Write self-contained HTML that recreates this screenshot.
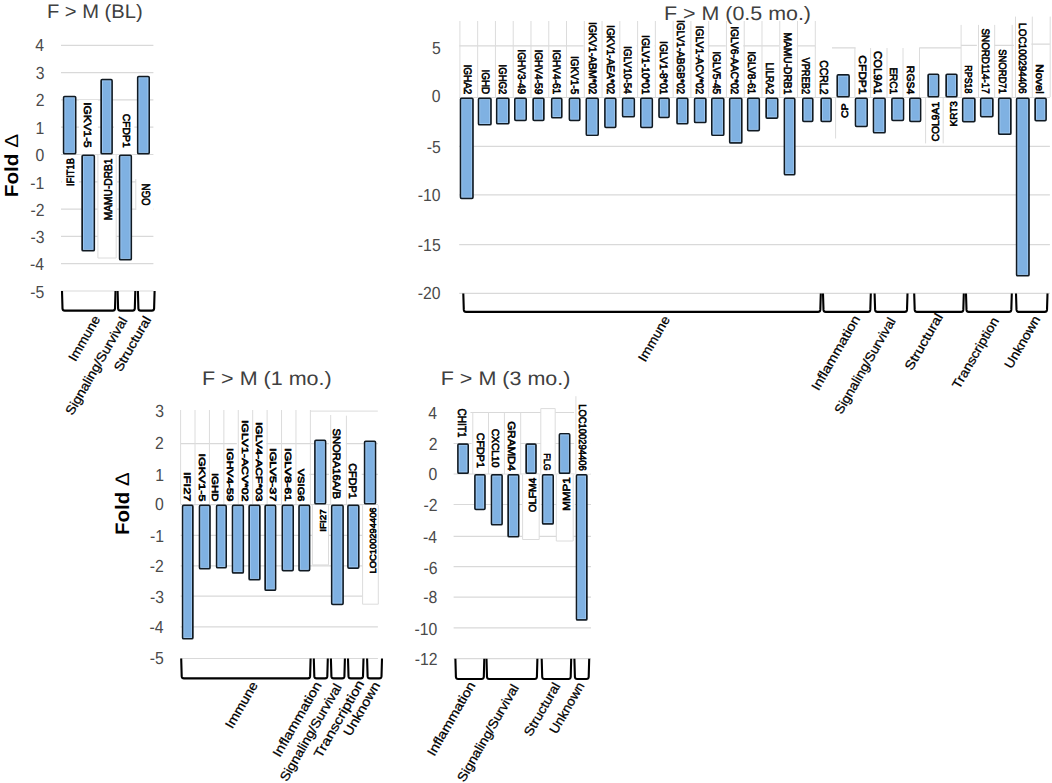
<!DOCTYPE html><html><head><meta charset="utf-8"><style>html,body{margin:0;padding:0;background:#fff;}svg{display:block;font-family:"Liberation Sans",sans-serif;text-rendering:geometricPrecision;}</style></head><body>
<svg width="1052" height="783" viewBox="0 0 1052 783">
<rect width="1052" height="783" fill="#fff"/>
<line x1="61.00" y1="45.30" x2="153.40" y2="45.30" stroke="#d9d9d9" stroke-width="1.2"/>
<line x1="61.00" y1="72.60" x2="153.40" y2="72.60" stroke="#d9d9d9" stroke-width="1.2"/>
<line x1="61.00" y1="99.90" x2="153.40" y2="99.90" stroke="#d9d9d9" stroke-width="1.2"/>
<line x1="61.00" y1="127.20" x2="153.40" y2="127.20" stroke="#d9d9d9" stroke-width="1.2"/>
<line x1="61.00" y1="154.50" x2="153.40" y2="154.50" stroke="#d9d9d9" stroke-width="1.2"/>
<line x1="61.00" y1="181.80" x2="153.40" y2="181.80" stroke="#d9d9d9" stroke-width="1.2"/>
<line x1="61.00" y1="209.10" x2="153.40" y2="209.10" stroke="#d9d9d9" stroke-width="1.2"/>
<line x1="61.00" y1="236.40" x2="153.40" y2="236.40" stroke="#d9d9d9" stroke-width="1.2"/>
<line x1="61.00" y1="263.70" x2="153.40" y2="263.70" stroke="#d9d9d9" stroke-width="1.2"/>
<line x1="61.00" y1="291.00" x2="153.40" y2="291.00" stroke="#d9d9d9" stroke-width="1.2"/>
<line x1="459.20" y1="97.50" x2="1049.90" y2="97.50" stroke="#d9d9d9" stroke-width="1.2"/>
<line x1="459.20" y1="146.30" x2="1049.90" y2="146.30" stroke="#d9d9d9" stroke-width="1.2"/>
<line x1="459.20" y1="194.80" x2="1049.90" y2="194.80" stroke="#d9d9d9" stroke-width="1.2"/>
<line x1="459.20" y1="244.60" x2="1049.90" y2="244.60" stroke="#d9d9d9" stroke-width="1.2"/>
<line x1="459.20" y1="293.40" x2="1049.90" y2="293.40" stroke="#d9d9d9" stroke-width="1.2"/>
<line x1="459.20" y1="45.80" x2="815.30" y2="45.80" stroke="#d9d9d9" stroke-width="1.2"/>
<line x1="815.30" y1="47.80" x2="961.00" y2="47.80" stroke="#d9d9d9" stroke-width="1.2"/>
<line x1="961.00" y1="45.40" x2="1015.50" y2="45.40" stroke="#d9d9d9" stroke-width="1.2"/>
<line x1="1015.50" y1="44.20" x2="1049.90" y2="44.20" stroke="#d9d9d9" stroke-width="1.2"/>
<line x1="180.60" y1="443.60" x2="377.90" y2="443.60" stroke="#d9d9d9" stroke-width="1.2"/>
<line x1="180.60" y1="474.30" x2="377.90" y2="474.30" stroke="#d9d9d9" stroke-width="1.2"/>
<line x1="180.60" y1="504.60" x2="377.90" y2="504.60" stroke="#d9d9d9" stroke-width="1.2"/>
<line x1="180.60" y1="535.30" x2="377.90" y2="535.30" stroke="#d9d9d9" stroke-width="1.2"/>
<line x1="180.60" y1="565.90" x2="377.90" y2="565.90" stroke="#d9d9d9" stroke-width="1.2"/>
<line x1="180.60" y1="596.20" x2="377.90" y2="596.20" stroke="#d9d9d9" stroke-width="1.2"/>
<line x1="180.60" y1="626.90" x2="377.90" y2="626.90" stroke="#d9d9d9" stroke-width="1.2"/>
<line x1="180.60" y1="658.50" x2="377.90" y2="658.50" stroke="#d9d9d9" stroke-width="1.2"/>
<line x1="453.60" y1="412.50" x2="591.00" y2="412.50" stroke="#d9d9d9" stroke-width="1.2"/>
<line x1="453.60" y1="443.50" x2="591.00" y2="443.50" stroke="#d9d9d9" stroke-width="1.2"/>
<line x1="453.60" y1="474.00" x2="591.00" y2="474.00" stroke="#d9d9d9" stroke-width="1.2"/>
<line x1="453.60" y1="504.50" x2="591.00" y2="504.50" stroke="#d9d9d9" stroke-width="1.2"/>
<line x1="453.60" y1="536.40" x2="591.00" y2="536.40" stroke="#d9d9d9" stroke-width="1.2"/>
<line x1="453.60" y1="566.60" x2="591.00" y2="566.60" stroke="#d9d9d9" stroke-width="1.2"/>
<line x1="453.60" y1="597.20" x2="591.00" y2="597.20" stroke="#d9d9d9" stroke-width="1.2"/>
<line x1="453.60" y1="627.90" x2="591.00" y2="627.90" stroke="#d9d9d9" stroke-width="1.2"/>
<line x1="453.60" y1="658.70" x2="591.00" y2="658.70" stroke="#d9d9d9" stroke-width="1.2"/>
<rect x="79.65" y="100.40" width="16.80" height="49.70" fill="#fff"/>
<rect x="117.60" y="111.90" width="16.80" height="38.20" fill="#fff"/>
<rect x="62.15" y="155.70" width="16.80" height="31.90" fill="#fff"/>
<rect x="100.35" y="156.20" width="16.80" height="65.80" fill="#fff"/>
<rect x="137.15" y="181.10" width="16.80" height="26.60" fill="#fff"/>
<rect x="459.20" y="62.90" width="17.60" height="33.80" fill="#fff"/>
<rect x="476.97" y="67.90" width="17.60" height="28.80" fill="#fff"/>
<rect x="494.74" y="62.90" width="17.60" height="33.80" fill="#fff"/>
<rect x="512.51" y="47.90" width="17.60" height="48.80" fill="#fff"/>
<rect x="530.28" y="47.90" width="17.60" height="48.80" fill="#fff"/>
<rect x="548.05" y="47.90" width="17.60" height="48.80" fill="#fff"/>
<rect x="565.82" y="54.30" width="17.60" height="42.40" fill="#fff"/>
<rect x="583.59" y="20.10" width="17.60" height="76.60" fill="#fff"/>
<rect x="601.36" y="23.70" width="17.60" height="73.00" fill="#fff"/>
<rect x="619.13" y="44.30" width="17.60" height="52.40" fill="#fff"/>
<rect x="636.90" y="33.60" width="17.60" height="63.10" fill="#fff"/>
<rect x="654.67" y="39.40" width="17.60" height="57.30" fill="#fff"/>
<rect x="672.44" y="18.60" width="17.60" height="78.10" fill="#fff"/>
<rect x="690.21" y="24.00" width="17.60" height="72.70" fill="#fff"/>
<rect x="707.98" y="49.80" width="17.60" height="46.90" fill="#fff"/>
<rect x="725.75" y="24.40" width="17.60" height="72.30" fill="#fff"/>
<rect x="743.52" y="49.80" width="17.60" height="46.90" fill="#fff"/>
<rect x="761.29" y="60.50" width="17.60" height="36.20" fill="#fff"/>
<rect x="779.06" y="30.80" width="17.60" height="65.90" fill="#fff"/>
<rect x="796.83" y="55.10" width="17.60" height="41.60" fill="#fff"/>
<rect x="815.35" y="58.20" width="17.60" height="38.50" fill="#fff"/>
<rect x="836.45" y="101.10" width="16.80" height="18.70" fill="#fff"/>
<rect x="853.20" y="53.60" width="17.60" height="43.10" fill="#fff"/>
<rect x="869.10" y="49.30" width="17.60" height="47.40" fill="#fff"/>
<rect x="885.30" y="65.70" width="17.60" height="31.00" fill="#fff"/>
<rect x="901.70" y="64.30" width="17.60" height="32.40" fill="#fff"/>
<rect x="927.30" y="99.40" width="16.80" height="43.90" fill="#fff"/>
<rect x="945.65" y="98.70" width="16.80" height="29.80" fill="#fff"/>
<rect x="959.35" y="63.70" width="17.60" height="32.60" fill="#fff"/>
<rect x="976.85" y="26.70" width="17.60" height="69.60" fill="#fff"/>
<rect x="993.65" y="47.20" width="17.60" height="49.10" fill="#fff"/>
<rect x="1013.85" y="21.60" width="17.60" height="74.70" fill="#fff"/>
<rect x="1031.20" y="62.50" width="17.60" height="33.80" fill="#fff"/>
<rect x="179.90" y="470.40" width="15.20" height="33.40" fill="#fff"/>
<rect x="194.10" y="452.00" width="15.20" height="51.80" fill="#fff"/>
<rect x="208.20" y="471.20" width="15.20" height="32.60" fill="#fff"/>
<rect x="222.80" y="446.60" width="15.20" height="57.20" fill="#fff"/>
<rect x="236.80" y="418.30" width="15.20" height="85.50" fill="#fff"/>
<rect x="251.30" y="420.30" width="15.20" height="83.50" fill="#fff"/>
<rect x="265.50" y="446.60" width="15.20" height="57.20" fill="#fff"/>
<rect x="279.80" y="446.60" width="15.20" height="57.20" fill="#fff"/>
<rect x="294.20" y="466.20" width="15.20" height="37.60" fill="#fff"/>
<rect x="329.00" y="426.70" width="16.80" height="74.60" fill="#fff"/>
<rect x="344.90" y="461.20" width="16.80" height="40.10" fill="#fff"/>
<rect x="314.45" y="506.90" width="16.80" height="26.50" fill="#fff"/>
<rect x="364.05" y="505.00" width="16.80" height="70.50" fill="#fff"/>
<rect x="453.65" y="406.60" width="16.80" height="33.30" fill="#fff"/>
<rect x="471.60" y="430.60" width="16.80" height="39.90" fill="#fff"/>
<rect x="487.20" y="426.80" width="16.80" height="43.70" fill="#fff"/>
<rect x="503.20" y="419.10" width="16.80" height="54.30" fill="#fff"/>
<rect x="524.05" y="475.20" width="16.80" height="38.90" fill="#fff"/>
<rect x="539.00" y="451.70" width="16.80" height="21.70" fill="#fff"/>
<rect x="558.00" y="474.70" width="16.80" height="37.70" fill="#fff"/>
<rect x="574.10" y="402.40" width="16.80" height="71.00" fill="#fff"/>
<rect x="97.90" y="154.80" width="18.30" height="103.20" fill="#fff"/>
<rect x="79.00" y="100.00" width="18.90" height="54.20" fill="#fff"/>
<rect x="114.00" y="110.00" width="19.70" height="44.20" fill="#fff"/>
<rect x="135.80" y="179.00" width="17.20" height="31.00" fill="#fff"/>
<rect x="312.40" y="505.20" width="16.10" height="59.70" fill="#fff"/>
<rect x="362.60" y="505.20" width="15.70" height="99.00" fill="#fff"/>
<rect x="522.60" y="474.60" width="16.60" height="64.90" fill="#fff"/>
<rect x="556.30" y="474.60" width="16.90" height="66.40" fill="#fff"/>
<rect x="540.80" y="408.60" width="14.40" height="65.00" fill="#fff"/>
<rect x="575.90" y="396.20" width="14.10" height="77.40" fill="#fff"/>
<rect x="855.60" y="46.60" width="63.70" height="50.40" fill="#fff"/>
<rect x="816.00" y="46.60" width="16.00" height="50.40" fill="#fff"/>
<line x1="459.90" y1="21.00" x2="459.90" y2="97.00" stroke="#dcdcdc" stroke-width="1"/>
<line x1="477.67" y1="21.00" x2="477.67" y2="97.00" stroke="#dcdcdc" stroke-width="1"/>
<line x1="495.44" y1="21.00" x2="495.44" y2="97.00" stroke="#dcdcdc" stroke-width="1"/>
<line x1="513.21" y1="21.00" x2="513.21" y2="97.00" stroke="#dcdcdc" stroke-width="1"/>
<line x1="530.98" y1="21.00" x2="530.98" y2="97.00" stroke="#dcdcdc" stroke-width="1"/>
<line x1="548.75" y1="21.00" x2="548.75" y2="97.00" stroke="#dcdcdc" stroke-width="1"/>
<line x1="566.52" y1="21.00" x2="566.52" y2="97.00" stroke="#dcdcdc" stroke-width="1"/>
<line x1="584.29" y1="21.00" x2="584.29" y2="97.00" stroke="#dcdcdc" stroke-width="1"/>
<line x1="602.06" y1="21.00" x2="602.06" y2="97.00" stroke="#dcdcdc" stroke-width="1"/>
<line x1="619.83" y1="21.00" x2="619.83" y2="97.00" stroke="#dcdcdc" stroke-width="1"/>
<line x1="637.60" y1="21.00" x2="637.60" y2="97.00" stroke="#dcdcdc" stroke-width="1"/>
<line x1="655.37" y1="21.00" x2="655.37" y2="97.00" stroke="#dcdcdc" stroke-width="1"/>
<line x1="673.14" y1="21.00" x2="673.14" y2="97.00" stroke="#dcdcdc" stroke-width="1"/>
<line x1="690.91" y1="21.00" x2="690.91" y2="97.00" stroke="#dcdcdc" stroke-width="1"/>
<line x1="708.68" y1="21.00" x2="708.68" y2="97.00" stroke="#dcdcdc" stroke-width="1"/>
<line x1="726.45" y1="21.00" x2="726.45" y2="97.00" stroke="#dcdcdc" stroke-width="1"/>
<line x1="744.22" y1="21.00" x2="744.22" y2="97.00" stroke="#dcdcdc" stroke-width="1"/>
<line x1="761.99" y1="21.00" x2="761.99" y2="97.00" stroke="#dcdcdc" stroke-width="1"/>
<line x1="779.76" y1="21.00" x2="779.76" y2="97.00" stroke="#dcdcdc" stroke-width="1"/>
<line x1="797.53" y1="21.00" x2="797.53" y2="97.00" stroke="#dcdcdc" stroke-width="1"/>
<line x1="815.30" y1="21.00" x2="815.30" y2="97.00" stroke="#dcdcdc" stroke-width="1"/>
<line x1="835.60" y1="97.50" x2="835.60" y2="138.50" stroke="#dcdcdc" stroke-width="1"/>
<line x1="854.90" y1="48.00" x2="854.90" y2="97.00" stroke="#dcdcdc" stroke-width="1"/>
<line x1="870.60" y1="48.00" x2="870.60" y2="97.00" stroke="#dcdcdc" stroke-width="1"/>
<line x1="887.00" y1="48.00" x2="887.00" y2="97.00" stroke="#dcdcdc" stroke-width="1"/>
<line x1="903.00" y1="48.00" x2="903.00" y2="97.00" stroke="#dcdcdc" stroke-width="1"/>
<line x1="919.50" y1="47.80" x2="919.50" y2="97.00" stroke="#dcdcdc" stroke-width="1"/>
<line x1="925.60" y1="97.50" x2="925.60" y2="143.40" stroke="#dcdcdc" stroke-width="1"/>
<line x1="943.20" y1="97.50" x2="943.20" y2="143.40" stroke="#dcdcdc" stroke-width="1"/>
<line x1="961.10" y1="24.90" x2="961.10" y2="97.00" stroke="#dcdcdc" stroke-width="1"/>
<line x1="978.50" y1="24.90" x2="978.50" y2="97.00" stroke="#dcdcdc" stroke-width="1"/>
<line x1="994.70" y1="24.90" x2="994.70" y2="97.00" stroke="#dcdcdc" stroke-width="1"/>
<line x1="1012.20" y1="24.90" x2="1012.20" y2="97.00" stroke="#dcdcdc" stroke-width="1"/>
<line x1="1015.50" y1="16.60" x2="1015.50" y2="97.00" stroke="#dcdcdc" stroke-width="1"/>
<line x1="1032.30" y1="16.60" x2="1032.30" y2="97.00" stroke="#dcdcdc" stroke-width="1"/>
<line x1="1050.20" y1="16.60" x2="1050.20" y2="97.00" stroke="#dcdcdc" stroke-width="1"/>
<line x1="180.60" y1="410.00" x2="180.60" y2="504.00" stroke="#dcdcdc" stroke-width="1"/>
<line x1="195.02" y1="410.00" x2="195.02" y2="504.00" stroke="#dcdcdc" stroke-width="1"/>
<line x1="209.44" y1="410.00" x2="209.44" y2="504.00" stroke="#dcdcdc" stroke-width="1"/>
<line x1="223.86" y1="410.00" x2="223.86" y2="504.00" stroke="#dcdcdc" stroke-width="1"/>
<line x1="238.28" y1="410.00" x2="238.28" y2="504.00" stroke="#dcdcdc" stroke-width="1"/>
<line x1="252.70" y1="410.00" x2="252.70" y2="504.00" stroke="#dcdcdc" stroke-width="1"/>
<line x1="267.12" y1="410.00" x2="267.12" y2="504.00" stroke="#dcdcdc" stroke-width="1"/>
<line x1="281.54" y1="410.00" x2="281.54" y2="504.00" stroke="#dcdcdc" stroke-width="1"/>
<line x1="295.96" y1="410.00" x2="295.96" y2="504.00" stroke="#dcdcdc" stroke-width="1"/>
<line x1="310.38" y1="410.00" x2="310.38" y2="504.00" stroke="#dcdcdc" stroke-width="1"/>
<line x1="330.70" y1="415.00" x2="330.70" y2="504.00" stroke="#dcdcdc" stroke-width="1"/>
<line x1="346.40" y1="415.70" x2="346.40" y2="504.00" stroke="#dcdcdc" stroke-width="1"/>
<line x1="310.40" y1="411.10" x2="377.80" y2="411.10" stroke="#dcdcdc" stroke-width="1"/>
<line x1="472.80" y1="412.50" x2="472.80" y2="474.00" stroke="#dcdcdc" stroke-width="1"/>
<line x1="488.50" y1="412.50" x2="488.50" y2="474.00" stroke="#dcdcdc" stroke-width="1"/>
<line x1="504.40" y1="412.50" x2="504.40" y2="474.00" stroke="#dcdcdc" stroke-width="1"/>
<line x1="520.70" y1="412.50" x2="520.70" y2="474.00" stroke="#dcdcdc" stroke-width="1"/>
<line x1="97.90" y1="154.80" x2="97.90" y2="258.00" stroke="#dcdcdc" stroke-width="1"/>
<line x1="116.20" y1="154.80" x2="116.20" y2="258.00" stroke="#dcdcdc" stroke-width="1"/>
<line x1="97.90" y1="258.00" x2="116.20" y2="258.00" stroke="#dcdcdc" stroke-width="1"/>
<line x1="135.80" y1="179.00" x2="135.80" y2="210.00" stroke="#dcdcdc" stroke-width="1"/>
<line x1="312.40" y1="505.20" x2="312.40" y2="564.90" stroke="#dcdcdc" stroke-width="1"/>
<line x1="328.50" y1="505.20" x2="328.50" y2="564.90" stroke="#dcdcdc" stroke-width="1"/>
<line x1="312.40" y1="564.90" x2="328.50" y2="564.90" stroke="#dcdcdc" stroke-width="1"/>
<line x1="362.60" y1="505.20" x2="362.60" y2="604.20" stroke="#dcdcdc" stroke-width="1"/>
<line x1="378.30" y1="505.20" x2="378.30" y2="604.20" stroke="#dcdcdc" stroke-width="1"/>
<line x1="362.60" y1="604.20" x2="378.30" y2="604.20" stroke="#dcdcdc" stroke-width="1"/>
<line x1="522.60" y1="474.60" x2="522.60" y2="539.50" stroke="#dcdcdc" stroke-width="1"/>
<line x1="539.20" y1="474.60" x2="539.20" y2="539.50" stroke="#dcdcdc" stroke-width="1"/>
<line x1="522.60" y1="539.50" x2="539.20" y2="539.50" stroke="#dcdcdc" stroke-width="1"/>
<line x1="556.30" y1="474.60" x2="556.30" y2="541.00" stroke="#dcdcdc" stroke-width="1"/>
<line x1="573.20" y1="474.60" x2="573.20" y2="541.00" stroke="#dcdcdc" stroke-width="1"/>
<line x1="556.30" y1="541.00" x2="573.20" y2="541.00" stroke="#dcdcdc" stroke-width="1"/>
<line x1="540.80" y1="408.60" x2="540.80" y2="473.60" stroke="#dcdcdc" stroke-width="1"/>
<line x1="555.20" y1="408.60" x2="555.20" y2="473.60" stroke="#dcdcdc" stroke-width="1"/>
<line x1="540.80" y1="408.60" x2="555.20" y2="408.60" stroke="#dcdcdc" stroke-width="1"/>
<line x1="575.90" y1="396.20" x2="575.90" y2="473.60" stroke="#dcdcdc" stroke-width="1"/>
<rect x="63.65" y="96.55" width="12.00" height="57.10" rx="1" fill="#7fb1e2" stroke="#111a22" stroke-width="1.70"/>
<rect x="64.90" y="97.80" width="9.50" height="54.60" fill="none" stroke="#a9d0f4" stroke-width="0.80" opacity="0.8"/>
<rect x="82.15" y="155.35" width="12.10" height="95.30" rx="1" fill="#7fb1e2" stroke="#111a22" stroke-width="1.70"/>
<rect x="83.40" y="156.60" width="9.60" height="92.80" fill="none" stroke="#a9d0f4" stroke-width="0.80" opacity="0.8"/>
<rect x="101.15" y="79.65" width="10.90" height="74.00" rx="1" fill="#7fb1e2" stroke="#111a22" stroke-width="1.70"/>
<rect x="102.40" y="80.90" width="8.40" height="71.50" fill="none" stroke="#a9d0f4" stroke-width="0.80" opacity="0.8"/>
<rect x="119.65" y="155.35" width="11.60" height="104.30" rx="1" fill="#7fb1e2" stroke="#111a22" stroke-width="1.70"/>
<rect x="120.90" y="156.60" width="9.10" height="101.80" fill="none" stroke="#a9d0f4" stroke-width="0.80" opacity="0.8"/>
<rect x="137.75" y="76.55" width="11.40" height="77.10" rx="1" fill="#7fb1e2" stroke="#111a22" stroke-width="1.70"/>
<rect x="139.00" y="77.80" width="8.90" height="74.60" fill="none" stroke="#a9d0f4" stroke-width="0.80" opacity="0.8"/>
<rect x="460.55" y="98.35" width="12.40" height="100.00" rx="1" fill="#7fb1e2" stroke="#111a22" stroke-width="1.70"/>
<rect x="461.80" y="99.60" width="9.90" height="97.50" fill="none" stroke="#a9d0f4" stroke-width="0.80" opacity="0.8"/>
<rect x="478.55" y="98.35" width="12.40" height="26.40" rx="1" fill="#7fb1e2" stroke="#111a22" stroke-width="1.70"/>
<rect x="479.80" y="99.60" width="9.90" height="23.90" fill="none" stroke="#a9d0f4" stroke-width="0.80" opacity="0.8"/>
<rect x="496.75" y="98.35" width="12.10" height="25.40" rx="1" fill="#7fb1e2" stroke="#111a22" stroke-width="1.70"/>
<rect x="498.00" y="99.60" width="9.60" height="22.90" fill="none" stroke="#a9d0f4" stroke-width="0.80" opacity="0.8"/>
<rect x="514.85" y="98.35" width="11.30" height="22.00" rx="1" fill="#7fb1e2" stroke="#111a22" stroke-width="1.70"/>
<rect x="516.10" y="99.60" width="8.80" height="19.50" fill="none" stroke="#a9d0f4" stroke-width="0.80" opacity="0.8"/>
<rect x="533.15" y="98.35" width="10.70" height="22.00" rx="1" fill="#7fb1e2" stroke="#111a22" stroke-width="1.70"/>
<rect x="534.40" y="99.60" width="8.20" height="19.50" fill="none" stroke="#a9d0f4" stroke-width="0.80" opacity="0.8"/>
<rect x="551.75" y="98.35" width="10.00" height="19.40" rx="1" fill="#7fb1e2" stroke="#111a22" stroke-width="1.70"/>
<rect x="553.00" y="99.60" width="7.50" height="16.90" fill="none" stroke="#a9d0f4" stroke-width="0.80" opacity="0.8"/>
<rect x="569.45" y="98.35" width="10.30" height="22.00" rx="1" fill="#7fb1e2" stroke="#111a22" stroke-width="1.70"/>
<rect x="570.70" y="99.60" width="7.80" height="19.50" fill="none" stroke="#a9d0f4" stroke-width="0.80" opacity="0.8"/>
<rect x="586.35" y="98.35" width="11.80" height="36.90" rx="1" fill="#7fb1e2" stroke="#111a22" stroke-width="1.70"/>
<rect x="587.60" y="99.60" width="9.30" height="34.40" fill="none" stroke="#a9d0f4" stroke-width="0.80" opacity="0.8"/>
<rect x="604.95" y="98.35" width="10.80" height="29.00" rx="1" fill="#7fb1e2" stroke="#111a22" stroke-width="1.70"/>
<rect x="606.20" y="99.60" width="8.30" height="26.50" fill="none" stroke="#a9d0f4" stroke-width="0.80" opacity="0.8"/>
<rect x="622.65" y="98.35" width="11.60" height="18.30" rx="1" fill="#7fb1e2" stroke="#111a22" stroke-width="1.70"/>
<rect x="623.90" y="99.60" width="9.10" height="15.80" fill="none" stroke="#a9d0f4" stroke-width="0.80" opacity="0.8"/>
<rect x="640.85" y="98.35" width="11.40" height="29.00" rx="1" fill="#7fb1e2" stroke="#111a22" stroke-width="1.70"/>
<rect x="642.10" y="99.60" width="8.90" height="26.50" fill="none" stroke="#a9d0f4" stroke-width="0.80" opacity="0.8"/>
<rect x="659.05" y="98.35" width="10.00" height="19.00" rx="1" fill="#7fb1e2" stroke="#111a22" stroke-width="1.70"/>
<rect x="660.30" y="99.60" width="7.50" height="16.50" fill="none" stroke="#a9d0f4" stroke-width="0.80" opacity="0.8"/>
<rect x="677.05" y="98.35" width="10.70" height="25.40" rx="1" fill="#7fb1e2" stroke="#111a22" stroke-width="1.70"/>
<rect x="678.30" y="99.60" width="8.20" height="22.90" fill="none" stroke="#a9d0f4" stroke-width="0.80" opacity="0.8"/>
<rect x="694.65" y="98.35" width="11.20" height="24.10" rx="1" fill="#7fb1e2" stroke="#111a22" stroke-width="1.70"/>
<rect x="695.90" y="99.60" width="8.70" height="21.60" fill="none" stroke="#a9d0f4" stroke-width="0.80" opacity="0.8"/>
<rect x="711.85" y="98.35" width="11.90" height="36.90" rx="1" fill="#7fb1e2" stroke="#111a22" stroke-width="1.70"/>
<rect x="713.10" y="99.60" width="9.40" height="34.40" fill="none" stroke="#a9d0f4" stroke-width="0.80" opacity="0.8"/>
<rect x="729.75" y="98.35" width="12.00" height="44.60" rx="1" fill="#7fb1e2" stroke="#111a22" stroke-width="1.70"/>
<rect x="731.00" y="99.60" width="9.50" height="42.10" fill="none" stroke="#a9d0f4" stroke-width="0.80" opacity="0.8"/>
<rect x="747.75" y="98.35" width="11.50" height="32.20" rx="1" fill="#7fb1e2" stroke="#111a22" stroke-width="1.70"/>
<rect x="749.00" y="99.60" width="9.00" height="29.70" fill="none" stroke="#a9d0f4" stroke-width="0.80" opacity="0.8"/>
<rect x="766.15" y="98.35" width="11.50" height="19.70" rx="1" fill="#7fb1e2" stroke="#111a22" stroke-width="1.70"/>
<rect x="767.40" y="99.60" width="9.00" height="17.20" fill="none" stroke="#a9d0f4" stroke-width="0.80" opacity="0.8"/>
<rect x="784.45" y="98.35" width="10.30" height="76.40" rx="1" fill="#7fb1e2" stroke="#111a22" stroke-width="1.70"/>
<rect x="785.70" y="99.60" width="7.80" height="73.90" fill="none" stroke="#a9d0f4" stroke-width="0.80" opacity="0.8"/>
<rect x="802.85" y="98.35" width="9.90" height="23.00" rx="1" fill="#7fb1e2" stroke="#111a22" stroke-width="1.70"/>
<rect x="804.10" y="99.60" width="7.40" height="20.50" fill="none" stroke="#a9d0f4" stroke-width="0.80" opacity="0.8"/>
<rect x="821.15" y="98.35" width="9.90" height="23.00" rx="1" fill="#7fb1e2" stroke="#111a22" stroke-width="1.70"/>
<rect x="822.40" y="99.60" width="7.40" height="20.50" fill="none" stroke="#a9d0f4" stroke-width="0.80" opacity="0.8"/>
<rect x="837.25" y="74.95" width="11.80" height="21.70" rx="1" fill="#7fb1e2" stroke="#111a22" stroke-width="1.70"/>
<rect x="838.50" y="76.20" width="9.30" height="19.20" fill="none" stroke="#a9d0f4" stroke-width="0.80" opacity="0.8"/>
<rect x="855.55" y="98.35" width="11.60" height="28.00" rx="1" fill="#7fb1e2" stroke="#111a22" stroke-width="1.70"/>
<rect x="856.80" y="99.60" width="9.10" height="25.50" fill="none" stroke="#a9d0f4" stroke-width="0.80" opacity="0.8"/>
<rect x="873.55" y="98.35" width="11.50" height="34.40" rx="1" fill="#7fb1e2" stroke="#111a22" stroke-width="1.70"/>
<rect x="874.80" y="99.60" width="9.00" height="31.90" fill="none" stroke="#a9d0f4" stroke-width="0.80" opacity="0.8"/>
<rect x="891.95" y="98.35" width="11.50" height="22.00" rx="1" fill="#7fb1e2" stroke="#111a22" stroke-width="1.70"/>
<rect x="893.20" y="99.60" width="9.00" height="19.50" fill="none" stroke="#a9d0f4" stroke-width="0.80" opacity="0.8"/>
<rect x="909.85" y="98.35" width="10.70" height="23.00" rx="1" fill="#7fb1e2" stroke="#111a22" stroke-width="1.70"/>
<rect x="911.10" y="99.60" width="8.20" height="20.50" fill="none" stroke="#a9d0f4" stroke-width="0.80" opacity="0.8"/>
<rect x="928.15" y="74.35" width="10.40" height="22.30" rx="1" fill="#7fb1e2" stroke="#111a22" stroke-width="1.70"/>
<rect x="929.40" y="75.60" width="7.90" height="19.80" fill="none" stroke="#a9d0f4" stroke-width="0.80" opacity="0.8"/>
<rect x="946.15" y="74.35" width="10.70" height="22.30" rx="1" fill="#7fb1e2" stroke="#111a22" stroke-width="1.70"/>
<rect x="947.40" y="75.60" width="8.20" height="19.80" fill="none" stroke="#a9d0f4" stroke-width="0.80" opacity="0.8"/>
<rect x="962.75" y="98.35" width="12.10" height="23.20" rx="1" fill="#7fb1e2" stroke="#111a22" stroke-width="1.70"/>
<rect x="964.00" y="99.60" width="9.60" height="20.70" fill="none" stroke="#a9d0f4" stroke-width="0.80" opacity="0.8"/>
<rect x="980.75" y="98.35" width="12.10" height="18.20" rx="1" fill="#7fb1e2" stroke="#111a22" stroke-width="1.70"/>
<rect x="982.00" y="99.60" width="9.60" height="15.70" fill="none" stroke="#a9d0f4" stroke-width="0.80" opacity="0.8"/>
<rect x="998.75" y="98.35" width="12.10" height="35.80" rx="1" fill="#7fb1e2" stroke="#111a22" stroke-width="1.70"/>
<rect x="1000.00" y="99.60" width="9.60" height="33.30" fill="none" stroke="#a9d0f4" stroke-width="0.80" opacity="0.8"/>
<rect x="1016.65" y="98.35" width="12.30" height="177.30" rx="1" fill="#7fb1e2" stroke="#111a22" stroke-width="1.70"/>
<rect x="1017.90" y="99.60" width="9.80" height="174.80" fill="none" stroke="#a9d0f4" stroke-width="0.80" opacity="0.8"/>
<rect x="1035.15" y="98.35" width="10.90" height="22.20" rx="1" fill="#7fb1e2" stroke="#111a22" stroke-width="1.70"/>
<rect x="1036.40" y="99.60" width="8.40" height="19.70" fill="none" stroke="#a9d0f4" stroke-width="0.80" opacity="0.8"/>
<rect x="182.65" y="505.45" width="10.20" height="133.30" rx="1" fill="#7fb1e2" stroke="#111a22" stroke-width="1.70"/>
<rect x="183.90" y="506.70" width="7.70" height="130.80" fill="none" stroke="#a9d0f4" stroke-width="0.80" opacity="0.8"/>
<rect x="199.55" y="505.45" width="10.40" height="63.20" rx="1" fill="#7fb1e2" stroke="#111a22" stroke-width="1.70"/>
<rect x="200.80" y="506.70" width="7.90" height="60.70" fill="none" stroke="#a9d0f4" stroke-width="0.80" opacity="0.8"/>
<rect x="216.65" y="505.45" width="9.50" height="62.30" rx="1" fill="#7fb1e2" stroke="#111a22" stroke-width="1.70"/>
<rect x="217.90" y="506.70" width="7.00" height="59.80" fill="none" stroke="#a9d0f4" stroke-width="0.80" opacity="0.8"/>
<rect x="232.55" y="505.45" width="10.70" height="67.50" rx="1" fill="#7fb1e2" stroke="#111a22" stroke-width="1.70"/>
<rect x="233.80" y="506.70" width="8.20" height="65.00" fill="none" stroke="#a9d0f4" stroke-width="0.80" opacity="0.8"/>
<rect x="249.15" y="505.45" width="10.70" height="74.20" rx="1" fill="#7fb1e2" stroke="#111a22" stroke-width="1.70"/>
<rect x="250.40" y="506.70" width="8.20" height="71.70" fill="none" stroke="#a9d0f4" stroke-width="0.80" opacity="0.8"/>
<rect x="265.15" y="505.45" width="10.40" height="84.70" rx="1" fill="#7fb1e2" stroke="#111a22" stroke-width="1.70"/>
<rect x="266.40" y="506.70" width="7.90" height="82.20" fill="none" stroke="#a9d0f4" stroke-width="0.80" opacity="0.8"/>
<rect x="282.35" y="505.45" width="10.80" height="65.10" rx="1" fill="#7fb1e2" stroke="#111a22" stroke-width="1.70"/>
<rect x="283.60" y="506.70" width="8.30" height="62.60" fill="none" stroke="#a9d0f4" stroke-width="0.80" opacity="0.8"/>
<rect x="299.05" y="505.45" width="10.50" height="65.10" rx="1" fill="#7fb1e2" stroke="#111a22" stroke-width="1.70"/>
<rect x="300.30" y="506.70" width="8.00" height="62.60" fill="none" stroke="#a9d0f4" stroke-width="0.80" opacity="0.8"/>
<rect x="314.95" y="440.45" width="10.60" height="63.30" rx="1" fill="#7fb1e2" stroke="#111a22" stroke-width="1.70"/>
<rect x="316.20" y="441.70" width="8.10" height="60.80" fill="none" stroke="#a9d0f4" stroke-width="0.80" opacity="0.8"/>
<rect x="331.75" y="505.45" width="11.30" height="98.90" rx="1" fill="#7fb1e2" stroke="#111a22" stroke-width="1.70"/>
<rect x="333.00" y="506.70" width="8.80" height="96.40" fill="none" stroke="#a9d0f4" stroke-width="0.80" opacity="0.8"/>
<rect x="347.95" y="505.45" width="10.80" height="62.60" rx="1" fill="#7fb1e2" stroke="#111a22" stroke-width="1.70"/>
<rect x="349.20" y="506.70" width="8.30" height="60.10" fill="none" stroke="#a9d0f4" stroke-width="0.80" opacity="0.8"/>
<rect x="364.65" y="441.35" width="10.80" height="62.40" rx="1" fill="#7fb1e2" stroke="#111a22" stroke-width="1.70"/>
<rect x="365.90" y="442.60" width="8.30" height="59.90" fill="none" stroke="#a9d0f4" stroke-width="0.80" opacity="0.8"/>
<rect x="457.95" y="444.05" width="10.20" height="29.10" rx="1" fill="#7fb1e2" stroke="#111a22" stroke-width="1.70"/>
<rect x="459.20" y="445.30" width="7.70" height="26.60" fill="none" stroke="#a9d0f4" stroke-width="0.80" opacity="0.8"/>
<rect x="474.95" y="474.85" width="10.00" height="34.50" rx="1" fill="#7fb1e2" stroke="#111a22" stroke-width="1.70"/>
<rect x="476.20" y="476.10" width="7.50" height="32.00" fill="none" stroke="#a9d0f4" stroke-width="0.80" opacity="0.8"/>
<rect x="491.55" y="474.85" width="10.50" height="49.80" rx="1" fill="#7fb1e2" stroke="#111a22" stroke-width="1.70"/>
<rect x="492.80" y="476.10" width="8.00" height="47.30" fill="none" stroke="#a9d0f4" stroke-width="0.80" opacity="0.8"/>
<rect x="508.15" y="474.85" width="10.50" height="61.80" rx="1" fill="#7fb1e2" stroke="#111a22" stroke-width="1.70"/>
<rect x="509.40" y="476.10" width="8.00" height="59.30" fill="none" stroke="#a9d0f4" stroke-width="0.80" opacity="0.8"/>
<rect x="526.15" y="444.05" width="9.80" height="29.10" rx="1" fill="#7fb1e2" stroke="#111a22" stroke-width="1.70"/>
<rect x="527.40" y="445.30" width="7.30" height="26.60" fill="none" stroke="#a9d0f4" stroke-width="0.80" opacity="0.8"/>
<rect x="542.65" y="474.85" width="10.50" height="49.10" rx="1" fill="#7fb1e2" stroke="#111a22" stroke-width="1.70"/>
<rect x="543.90" y="476.10" width="8.00" height="46.60" fill="none" stroke="#a9d0f4" stroke-width="0.80" opacity="0.8"/>
<rect x="559.45" y="433.75" width="10.20" height="39.40" rx="1" fill="#7fb1e2" stroke="#111a22" stroke-width="1.70"/>
<rect x="560.70" y="435.00" width="7.70" height="36.90" fill="none" stroke="#a9d0f4" stroke-width="0.80" opacity="0.8"/>
<rect x="576.55" y="474.85" width="10.30" height="145.10" rx="1" fill="#7fb1e2" stroke="#111a22" stroke-width="1.70"/>
<rect x="577.80" y="476.10" width="7.80" height="142.60" fill="none" stroke="#a9d0f4" stroke-width="0.80" opacity="0.8"/>
<path d="M62.00 291.00 L62.50 308.60 Q62.70 310.60 64.70 310.60 L112.80 310.60 Q114.80 310.60 115.00 308.60 L115.50 291.00" fill="none" stroke="#000" stroke-width="2.10" stroke-linejoin="round"/>
<path d="M117.60 291.00 L118.10 308.60 Q118.30 310.60 120.30 310.60 L132.60 310.60 Q134.60 310.60 134.80 308.60 L135.30 291.00" fill="none" stroke="#000" stroke-width="2.10" stroke-linejoin="round"/>
<path d="M137.90 291.00 L138.40 308.60 Q138.60 310.60 140.60 310.60 L151.90 310.60 Q153.90 310.60 154.10 308.60 L154.60 291.00" fill="none" stroke="#000" stroke-width="2.10" stroke-linejoin="round"/>
<path d="M463.30 293.50 L463.80 309.90 Q464.00 311.90 466.00 311.90 L818.10 311.90 Q820.10 311.90 820.30 309.90 L820.80 293.50" fill="none" stroke="#000" stroke-width="2.10" stroke-linejoin="round"/>
<path d="M823.00 293.50 L823.50 309.90 Q823.70 311.90 825.70 311.90 L868.10 311.90 Q870.10 311.90 870.30 309.90 L870.80 293.50" fill="none" stroke="#000" stroke-width="2.10" stroke-linejoin="round"/>
<path d="M874.60 293.50 L875.10 309.90 Q875.30 311.90 877.30 311.90 L904.80 311.90 Q906.80 311.90 907.00 309.90 L907.50 293.50" fill="none" stroke="#000" stroke-width="2.10" stroke-linejoin="round"/>
<path d="M914.20 293.50 L914.70 309.90 Q914.90 311.90 916.90 311.90 L961.10 311.90 Q963.10 311.90 963.30 309.90 L963.80 293.50" fill="none" stroke="#000" stroke-width="2.10" stroke-linejoin="round"/>
<path d="M966.00 293.50 L966.50 309.90 Q966.70 311.90 968.70 311.90 L1009.10 311.90 Q1011.10 311.90 1011.30 309.90 L1011.80 293.50" fill="none" stroke="#000" stroke-width="2.10" stroke-linejoin="round"/>
<path d="M1016.00 293.50 L1016.50 309.90 Q1016.70 311.90 1018.70 311.90 L1044.80 311.90 Q1046.80 311.90 1047.00 309.90 L1047.50 293.50" fill="none" stroke="#000" stroke-width="2.10" stroke-linejoin="round"/>
<path d="M181.20 658.50 L181.70 676.40 Q181.90 678.40 183.90 678.40 L307.90 678.40 Q309.90 678.40 310.10 676.40 L310.60 658.50" fill="none" stroke="#000" stroke-width="2.10" stroke-linejoin="round"/>
<path d="M313.80 658.50 L314.30 676.40 Q314.50 678.40 316.50 678.40 L325.10 678.40 Q327.10 678.40 327.30 676.40 L327.80 658.50" fill="none" stroke="#000" stroke-width="2.10" stroke-linejoin="round"/>
<path d="M330.90 658.50 L331.40 676.40 Q331.60 678.40 333.60 678.40 L342.20 678.40 Q344.20 678.40 344.40 676.40 L344.90 658.50" fill="none" stroke="#000" stroke-width="2.10" stroke-linejoin="round"/>
<path d="M348.00 658.50 L348.50 676.40 Q348.70 678.40 350.70 678.40 L360.80 678.40 Q362.80 678.40 363.00 676.40 L363.50 658.50" fill="none" stroke="#000" stroke-width="2.10" stroke-linejoin="round"/>
<path d="M367.10 658.50 L367.60 676.40 Q367.80 678.40 369.80 678.40 L379.30 678.40 Q381.30 678.40 381.50 676.40 L382.00 658.50" fill="none" stroke="#000" stroke-width="2.10" stroke-linejoin="round"/>
<path d="M455.40 658.70 L455.90 677.00 Q456.10 679.00 458.10 679.00 L481.60 679.00 Q483.60 679.00 483.80 677.00 L484.30 658.70" fill="none" stroke="#000" stroke-width="2.10" stroke-linejoin="round"/>
<path d="M486.50 658.70 L487.00 677.00 Q487.20 679.00 489.20 679.00 L534.70 679.00 Q536.70 679.00 536.90 677.00 L537.40 658.70" fill="none" stroke="#000" stroke-width="2.10" stroke-linejoin="round"/>
<path d="M541.70 658.70 L542.20 677.00 Q542.40 679.00 544.40 679.00 L568.50 679.00 Q570.50 679.00 570.70 677.00 L571.20 658.70" fill="none" stroke="#000" stroke-width="2.10" stroke-linejoin="round"/>
<path d="M574.40 658.70 L574.90 677.00 Q575.10 679.00 577.10 679.00 L586.50 679.00 Q588.50 679.00 588.70 677.00 L589.20 658.70" fill="none" stroke="#000" stroke-width="2.10" stroke-linejoin="round"/>
<text id="t0" x="94.78" y="17.90" text-anchor="middle" textLength="95.66" lengthAdjust="spacingAndGlyphs" font-size="19.50" fill="#404040">F &gt; M (BL)</text>
<text id="t1" x="737.53" y="20.10" text-anchor="middle" textLength="147.00" lengthAdjust="spacingAndGlyphs" font-size="19.50" fill="#404040">F &gt; M (0.5 mo.)</text>
<text id="t2" x="266.84" y="385.00" text-anchor="middle" textLength="129.66" lengthAdjust="spacingAndGlyphs" font-size="19.50" fill="#404040">F &gt; M (1 mo.)</text>
<text id="t3" x="505.61" y="385.00" text-anchor="middle" textLength="129.74" lengthAdjust="spacingAndGlyphs" font-size="19.50" fill="#404040">F &gt; M (3 mo.)</text>
<text id="t4" x="0" y="0" text-anchor="end" transform="translate(44.13 51.24) scale(0.9 1)" font-size="17.50" fill="#4a4a4a">4</text>
<text id="t5" x="0" y="0" text-anchor="end" transform="translate(44.39 78.83) scale(0.9 1)" font-size="17.50" fill="#4a4a4a">3</text>
<text id="t6" x="0" y="0" text-anchor="end" transform="translate(44.42 106.07) scale(0.9 1)" font-size="17.50" fill="#4a4a4a">2</text>
<text id="t7" x="0" y="0" text-anchor="end" transform="translate(44.32 133.97) scale(0.9 1)" font-size="17.50" fill="#4a4a4a">1</text>
<text id="t8" x="0" y="0" text-anchor="end" transform="translate(44.33 161.01) scale(0.9 1)" font-size="17.50" fill="#4a4a4a">0</text>
<text id="t9" x="0" y="0" text-anchor="end" transform="translate(44.32 188.57) scale(0.9 1)" font-size="17.50" fill="#4a4a4a">-1</text>
<text id="t10" x="0" y="0" text-anchor="end" transform="translate(44.42 216.07) scale(0.9 1)" font-size="17.50" fill="#4a4a4a">-2</text>
<text id="t11" x="0" y="0" text-anchor="end" transform="translate(44.39 243.23) scale(0.9 1)" font-size="17.50" fill="#4a4a4a">-3</text>
<text id="t12" x="0" y="0" text-anchor="end" transform="translate(44.13 270.04) scale(0.9 1)" font-size="17.50" fill="#4a4a4a">-4</text>
<text id="t13" x="0" y="0" text-anchor="end" transform="translate(44.23 297.58) scale(0.9 1)" font-size="17.50" fill="#4a4a4a">-5</text>
<text id="t14" x="0" y="0" text-anchor="end" transform="translate(440.64 53.63) scale(0.9 1)" font-size="17.50" fill="#4a4a4a">5</text>
<text id="t15" x="0" y="0" text-anchor="end" transform="translate(440.48 102.42) scale(0.9 1)" font-size="17.50" fill="#4a4a4a">0</text>
<text id="t16" x="0" y="0" text-anchor="end" transform="translate(440.64 153.23) scale(0.9 1)" font-size="17.50" fill="#4a4a4a">-5</text>
<text id="t17" x="0" y="0" text-anchor="end" transform="translate(440.50 200.59) scale(0.9 1)" font-size="17.50" fill="#4a4a4a">-10</text>
<text id="t18" x="0" y="0" text-anchor="end" transform="translate(440.64 250.63) scale(0.9 1)" font-size="17.50" fill="#4a4a4a">-15</text>
<text id="t19" x="0" y="0" text-anchor="end" transform="translate(440.50 298.98) scale(0.9 1)" font-size="17.50" fill="#4a4a4a">-20</text>
<text id="t20" x="0" y="0" text-anchor="end" transform="translate(163.96 417.06) scale(0.9 1)" font-size="17.50" fill="#4a4a4a">3</text>
<text id="t21" x="0" y="0" text-anchor="end" transform="translate(163.77 448.92) scale(0.9 1)" font-size="17.50" fill="#4a4a4a">2</text>
<text id="t22" x="0" y="0" text-anchor="end" transform="translate(163.96 480.55) scale(0.9 1)" font-size="17.50" fill="#4a4a4a">1</text>
<text id="t23" x="0" y="0" text-anchor="end" transform="translate(163.82 510.22) scale(0.9 1)" font-size="17.50" fill="#4a4a4a">0</text>
<text id="t24" x="0" y="0" text-anchor="end" transform="translate(163.96 541.75) scale(0.9 1)" font-size="17.50" fill="#4a4a4a">-1</text>
<text id="t25" x="0" y="0" text-anchor="end" transform="translate(163.77 571.72) scale(0.9 1)" font-size="17.50" fill="#4a4a4a">-2</text>
<text id="t26" x="0" y="0" text-anchor="end" transform="translate(163.96 602.86) scale(0.9 1)" font-size="17.50" fill="#4a4a4a">-3</text>
<text id="t27" x="0" y="0" text-anchor="end" transform="translate(163.51 632.92) scale(0.9 1)" font-size="17.50" fill="#4a4a4a">-4</text>
<text id="t28" x="0" y="0" text-anchor="end" transform="translate(163.72 663.59) scale(0.9 1)" font-size="17.50" fill="#4a4a4a">-5</text>
<text id="t29" x="0" y="0" text-anchor="end" transform="translate(437.13 419.04) scale(0.9 1)" font-size="17.50" fill="#4a4a4a">4</text>
<text id="t30" x="0" y="0" text-anchor="end" transform="translate(437.42 449.67) scale(0.9 1)" font-size="17.50" fill="#4a4a4a">2</text>
<text id="t31" x="0" y="0" text-anchor="end" transform="translate(437.33 480.41) scale(0.9 1)" font-size="17.50" fill="#4a4a4a">0</text>
<text id="t32" x="0" y="0" text-anchor="end" transform="translate(437.42 510.87) scale(0.9 1)" font-size="17.50" fill="#4a4a4a">-2</text>
<text id="t33" x="0" y="0" text-anchor="end" transform="translate(437.13 543.04) scale(0.9 1)" font-size="17.50" fill="#4a4a4a">-4</text>
<text id="t34" x="0" y="0" text-anchor="end" transform="translate(437.39 574.01) scale(0.9 1)" font-size="17.50" fill="#4a4a4a">-6</text>
<text id="t35" x="0" y="0" text-anchor="end" transform="translate(437.38 603.39) scale(0.9 1)" font-size="17.50" fill="#4a4a4a">-8</text>
<text id="t36" x="0" y="0" text-anchor="end" transform="translate(437.28 634.77) scale(0.9 1)" font-size="17.50" fill="#4a4a4a">-10</text>
<text id="t37" x="0" y="0" text-anchor="end" transform="translate(437.42 665.47) scale(0.9 1)" font-size="17.50" fill="#4a4a4a">-12</text>
<text id="t38" x="0" y="6.51" text-anchor="middle" textLength="63.45" lengthAdjust="spacingAndGlyphs" transform="translate(11.49 165.56) rotate(-90)" font-size="18.93" fill="#000000" font-weight="bold">Fold <tspan font-weight="normal">Δ</tspan></text>
<text id="t39" x="0" y="6.72" text-anchor="middle" textLength="62.74" lengthAdjust="spacingAndGlyphs" transform="translate(121.89 503.76) rotate(-90)" font-size="19.53" fill="#000000" font-weight="bold">Fold <tspan font-weight="normal">Δ</tspan></text>
<text id="t40" x="0" y="3.52" text-anchor="middle" textLength="45.57" lengthAdjust="spacingAndGlyphs" transform="translate(87.83 124.94) rotate(90)" font-size="10.24" fill="#000000" stroke="#000000" stroke-width="0.6">IGKV1-5</text>
<text id="t41" x="0" y="3.48" text-anchor="middle" textLength="34.07" lengthAdjust="spacingAndGlyphs" transform="translate(126.40 130.73) rotate(90)" font-size="10.12" fill="#000000" stroke="#000000" stroke-width="0.6">CFDP1</text>
<text id="t42" x="0" y="3.65" text-anchor="middle" textLength="27.94" lengthAdjust="spacingAndGlyphs" transform="translate(70.07 172.10) rotate(-90)" font-size="10.62" fill="#000000" stroke="#000000" stroke-width="0.6">IFIT1B</text>
<text id="t43" x="0" y="3.89" text-anchor="middle" textLength="61.62" lengthAdjust="spacingAndGlyphs" transform="translate(108.52 189.36) rotate(-90)" font-size="11.32" fill="#000000" stroke="#000000" stroke-width="0.6">MAMU-DRB1</text>
<text id="t44" x="0" y="4.02" text-anchor="middle" textLength="21.98" lengthAdjust="spacingAndGlyphs" transform="translate(145.85 194.59) rotate(-90)" font-size="11.69" fill="#000000" stroke="#000000" stroke-width="0.6">OGN</text>
<text id="t45" x="0" y="3.71" text-anchor="middle" textLength="30.01" lengthAdjust="spacingAndGlyphs" transform="translate(467.94 79.41) rotate(90)" font-size="10.79" fill="#000000" stroke="#000000" stroke-width="0.6">IGHA2</text>
<text id="t46" x="0" y="3.70" text-anchor="middle" textLength="24.72" lengthAdjust="spacingAndGlyphs" transform="translate(486.12 81.82) rotate(90)" font-size="10.75" fill="#000000" stroke="#000000" stroke-width="0.6">IGHD</text>
<text id="t47" x="0" y="3.72" text-anchor="middle" textLength="29.73" lengthAdjust="spacingAndGlyphs" transform="translate(503.23 79.41) rotate(90)" font-size="10.81" fill="#000000" stroke="#000000" stroke-width="0.6">IGHG2</text>
<text id="t48" x="0" y="3.71" text-anchor="middle" textLength="44.74" lengthAdjust="spacingAndGlyphs" transform="translate(521.51 71.72) rotate(90)" font-size="10.78" fill="#000000" stroke="#000000" stroke-width="0.6">IGHV3-49</text>
<text id="t49" x="0" y="3.71" text-anchor="middle" textLength="44.88" lengthAdjust="spacingAndGlyphs" transform="translate(538.69 71.83) rotate(90)" font-size="10.78" fill="#000000" stroke="#000000" stroke-width="0.6">IGHV4-59</text>
<text id="t50" x="0" y="3.72" text-anchor="middle" textLength="44.83" lengthAdjust="spacingAndGlyphs" transform="translate(556.83 71.81) rotate(90)" font-size="10.80" fill="#000000" stroke="#000000" stroke-width="0.6">IGHV4-61</text>
<text id="t51" x="0" y="3.72" text-anchor="middle" textLength="38.13" lengthAdjust="spacingAndGlyphs" transform="translate(574.97 75.10) rotate(90)" font-size="10.83" fill="#000000" stroke="#000000" stroke-width="0.6">IGKV1-5</text>
<text id="t52" x="0" y="3.72" text-anchor="middle" textLength="72.51" lengthAdjust="spacingAndGlyphs" transform="translate(592.29 58.14) rotate(90)" font-size="10.82" fill="#000000" stroke="#000000" stroke-width="0.6">IGKV1-ABM*02</text>
<text id="t53" x="0" y="3.70" text-anchor="middle" textLength="69.20" lengthAdjust="spacingAndGlyphs" transform="translate(610.59 59.65) rotate(90)" font-size="10.77" fill="#000000" stroke="#000000" stroke-width="0.6">IGKV1-AEA*02</text>
<text id="t54" x="0" y="3.72" text-anchor="middle" textLength="47.92" lengthAdjust="spacingAndGlyphs" transform="translate(627.55 69.93) rotate(90)" font-size="10.81" fill="#000000" stroke="#000000" stroke-width="0.6">IGLV10-54</text>
<text id="t55" x="0" y="3.70" text-anchor="middle" textLength="59.34" lengthAdjust="spacingAndGlyphs" transform="translate(645.80 64.74) rotate(90)" font-size="10.76" fill="#000000" stroke="#000000" stroke-width="0.6">IGLV1-10*01</text>
<text id="t56" x="0" y="3.71" text-anchor="middle" textLength="53.34" lengthAdjust="spacingAndGlyphs" transform="translate(663.92 67.74) rotate(90)" font-size="10.78" fill="#000000" stroke="#000000" stroke-width="0.6">IGLV1-8*01</text>
<text id="t57" x="0" y="3.72" text-anchor="middle" textLength="74.19" lengthAdjust="spacingAndGlyphs" transform="translate(681.06 57.03) rotate(90)" font-size="10.82" fill="#000000" stroke="#000000" stroke-width="0.6">IGLV1-ABGB*02</text>
<text id="t58" x="0" y="3.71" text-anchor="middle" textLength="68.64" lengthAdjust="spacingAndGlyphs" transform="translate(699.40 59.96) rotate(90)" font-size="10.78" fill="#000000" stroke="#000000" stroke-width="0.6">IGLV1-ACV*02</text>
<text id="t59" x="0" y="3.73" text-anchor="middle" textLength="43.17" lengthAdjust="spacingAndGlyphs" transform="translate(716.51 72.74) rotate(90)" font-size="10.83" fill="#000000" stroke="#000000" stroke-width="0.6">IGLV5-45</text>
<text id="t60" x="0" y="3.67" text-anchor="middle" textLength="68.15" lengthAdjust="spacingAndGlyphs" transform="translate(734.40 60.23) rotate(90)" font-size="10.67" fill="#000000" stroke="#000000" stroke-width="0.6">IGLV6-AAC*02</text>
<text id="t61" x="0" y="3.71" text-anchor="middle" textLength="43.12" lengthAdjust="spacingAndGlyphs" transform="translate(751.98 72.74) rotate(90)" font-size="10.78" fill="#000000" stroke="#000000" stroke-width="0.6">IGLV8-61</text>
<text id="t62" x="0" y="3.82" text-anchor="middle" textLength="31.76" lengthAdjust="spacingAndGlyphs" transform="translate(769.91 78.36) rotate(90)" font-size="11.11" fill="#000000" stroke="#000000" stroke-width="0.6">LILRA2</text>
<text id="t63" x="0" y="3.79" text-anchor="middle" textLength="61.79" lengthAdjust="spacingAndGlyphs" transform="translate(788.04 63.42) rotate(90)" font-size="11.01" fill="#000000" stroke="#000000" stroke-width="0.6">MAMU-DRB1</text>
<text id="t64" x="0" y="3.84" text-anchor="middle" textLength="36.82" lengthAdjust="spacingAndGlyphs" transform="translate(805.60 75.81) rotate(90)" font-size="11.17" fill="#000000" stroke="#000000" stroke-width="0.6">VPREB2</text>
<text id="t65" x="0" y="3.95" text-anchor="middle" textLength="34.23" lengthAdjust="spacingAndGlyphs" transform="translate(823.60 77.34) rotate(90)" font-size="11.50" fill="#000000" stroke="#000000" stroke-width="0.6">CCRL2</text>
<text id="t66" x="0" y="3.21" text-anchor="middle" textLength="14.86" lengthAdjust="spacingAndGlyphs" transform="translate(844.77 110.69) rotate(-90)" font-size="9.33" fill="#000000" stroke="#000000" stroke-width="0.6">CP</text>
<text id="t67" x="0" y="3.58" text-anchor="middle" textLength="39.03" lengthAdjust="spacingAndGlyphs" transform="translate(862.22 74.81) rotate(90)" font-size="10.42" fill="#000000" stroke="#000000" stroke-width="0.6">CFDP1</text>
<text id="t68" x="0" y="3.84" text-anchor="middle" textLength="43.36" lengthAdjust="spacingAndGlyphs" transform="translate(878.17 72.70) rotate(90)" font-size="11.16" fill="#000000" stroke="#000000" stroke-width="0.6">COL9A1</text>
<text id="t69" x="0" y="3.60" text-anchor="middle" textLength="26.76" lengthAdjust="spacingAndGlyphs" transform="translate(893.86 80.78) rotate(90)" font-size="10.45" fill="#000000" stroke="#000000" stroke-width="0.6">ERC1</text>
<text id="t70" x="0" y="3.57" text-anchor="middle" textLength="28.43" lengthAdjust="spacingAndGlyphs" transform="translate(910.76 80.06) rotate(90)" font-size="10.37" fill="#000000" stroke="#000000" stroke-width="0.6">RGS4</text>
<text id="t71" x="0" y="3.50" text-anchor="middle" textLength="39.75" lengthAdjust="spacingAndGlyphs" transform="translate(935.73 121.63) rotate(-90)" font-size="10.18" fill="#000000" stroke="#000000" stroke-width="0.6">COL9A1</text>
<text id="t72" x="0" y="3.38" text-anchor="middle" textLength="25.31" lengthAdjust="spacingAndGlyphs" transform="translate(953.54 113.83) rotate(-90)" font-size="9.82" fill="#000000" stroke="#000000" stroke-width="0.6">KRT3</text>
<text id="t73" x="0" y="3.45" text-anchor="middle" textLength="28.18" lengthAdjust="spacingAndGlyphs" transform="translate(968.09 79.36) rotate(90)" font-size="10.02" fill="#000000" stroke="#000000" stroke-width="0.6">RPS18</text>
<text id="t74" x="0" y="3.66" text-anchor="middle" textLength="65.20" lengthAdjust="spacingAndGlyphs" transform="translate(985.68 61.12) rotate(90)" font-size="10.63" fill="#000000" stroke="#000000" stroke-width="0.6">SNORD114-17</text>
<text id="t75" x="0" y="3.61" text-anchor="middle" textLength="44.68" lengthAdjust="spacingAndGlyphs" transform="translate(1002.37 71.47) rotate(90)" font-size="10.48" fill="#000000" stroke="#000000" stroke-width="0.6">SNORD71</text>
<text id="t76" x="0" y="3.61" text-anchor="middle" textLength="70.35" lengthAdjust="spacingAndGlyphs" transform="translate(1022.77 58.28) rotate(90)" font-size="10.49" fill="#000000" stroke="#000000" stroke-width="0.6">LOC100294406</text>
<text id="t77" x="0" y="3.68" text-anchor="middle" textLength="29.60" lengthAdjust="spacingAndGlyphs" transform="translate(1039.86 79.05) rotate(90)" font-size="10.70" fill="#000000" stroke="#000000" stroke-width="0.6">Novel</text>
<text id="t78" x="0" y="3.20" text-anchor="middle" textLength="29.67" lengthAdjust="spacingAndGlyphs" transform="translate(187.28 486.77) rotate(90)" font-size="9.30" fill="#000000" stroke="#000000" stroke-width="0.6">IFI27</text>
<text id="t79" x="0" y="3.06" text-anchor="middle" textLength="47.85" lengthAdjust="spacingAndGlyphs" transform="translate(201.72 477.47) rotate(90)" font-size="8.91" fill="#000000" stroke="#000000" stroke-width="0.6">IGKV1-5</text>
<text id="t80" x="0" y="3.06" text-anchor="middle" textLength="28.46" lengthAdjust="spacingAndGlyphs" transform="translate(215.39 487.17) rotate(90)" font-size="8.90" fill="#000000" stroke="#000000" stroke-width="0.6">IGHD</text>
<text id="t81" x="0" y="3.06" text-anchor="middle" textLength="53.24" lengthAdjust="spacingAndGlyphs" transform="translate(230.56 474.67) rotate(90)" font-size="8.90" fill="#000000" stroke="#000000" stroke-width="0.6">IGHV4-59</text>
<text id="t82" x="0" y="3.06" text-anchor="middle" textLength="81.53" lengthAdjust="spacingAndGlyphs" transform="translate(244.63 460.70) rotate(90)" font-size="8.89" fill="#000000" stroke="#000000" stroke-width="0.6">IGLV1-ACV*02</text>
<text id="t83" x="0" y="3.06" text-anchor="middle" textLength="79.52" lengthAdjust="spacingAndGlyphs" transform="translate(259.13 461.77) rotate(90)" font-size="8.89" fill="#000000" stroke="#000000" stroke-width="0.6">IGLV4-ACF*03</text>
<text id="t84" x="0" y="3.05" text-anchor="middle" textLength="53.62" lengthAdjust="spacingAndGlyphs" transform="translate(273.49 474.68) rotate(90)" font-size="8.88" fill="#000000" stroke="#000000" stroke-width="0.6">IGLV5-37</text>
<text id="t85" x="0" y="3.05" text-anchor="middle" textLength="53.49" lengthAdjust="spacingAndGlyphs" transform="translate(287.58 474.61) rotate(90)" font-size="8.86" fill="#000000" stroke="#000000" stroke-width="0.6">IGLV8-61</text>
<text id="t86" x="0" y="3.06" text-anchor="middle" textLength="32.96" lengthAdjust="spacingAndGlyphs" transform="translate(301.34 485.11) rotate(90)" font-size="8.88" fill="#000000" stroke="#000000" stroke-width="0.6">VSIG6</text>
<text id="t87" x="0" y="3.63" text-anchor="middle" textLength="70.45" lengthAdjust="spacingAndGlyphs" transform="translate(336.96 463.67) rotate(90)" font-size="10.54" fill="#000000" stroke="#000000" stroke-width="0.6">SNORA16A/B</text>
<text id="t88" x="0" y="3.70" text-anchor="middle" textLength="35.59" lengthAdjust="spacingAndGlyphs" transform="translate(353.04 480.95) rotate(90)" font-size="10.75" fill="#000000" stroke="#000000" stroke-width="0.6">CFDP1</text>
<text id="t89" x="0" y="2.92" text-anchor="middle" textLength="22.39" lengthAdjust="spacingAndGlyphs" transform="translate(323.24 520.51) rotate(-90)" font-size="8.48" fill="#000000" stroke="#000000" stroke-width="0.6">IFI27</text>
<text id="t90" x="0" y="3.01" text-anchor="middle" textLength="66.06" lengthAdjust="spacingAndGlyphs" transform="translate(372.66 540.49) rotate(-90)" font-size="8.74" fill="#000000" stroke="#000000" stroke-width="0.6">LOC100294406</text>
<text id="t91" x="0" y="4.04" text-anchor="middle" textLength="29.16" lengthAdjust="spacingAndGlyphs" transform="translate(462.13 423.08) rotate(90)" font-size="11.73" fill="#000000" stroke="#000000" stroke-width="0.6">CHIT1</text>
<text id="t92" x="0" y="3.57" text-anchor="middle" textLength="35.12" lengthAdjust="spacingAndGlyphs" transform="translate(480.24 450.34) rotate(90)" font-size="10.39" fill="#000000" stroke="#000000" stroke-width="0.6">CFDP1</text>
<text id="t93" x="0" y="3.49" text-anchor="middle" textLength="38.92" lengthAdjust="spacingAndGlyphs" transform="translate(495.03 448.09) rotate(90)" font-size="10.13" fill="#000000" stroke="#000000" stroke-width="0.6">CXCL10</text>
<text id="t94" x="0" y="3.57" text-anchor="middle" textLength="49.60" lengthAdjust="spacingAndGlyphs" transform="translate(511.11 446.07) rotate(90)" font-size="10.38" fill="#000000" stroke="#000000" stroke-width="0.6">GRAMD4</text>
<text id="t95" x="0" y="3.52" text-anchor="middle" textLength="34.57" lengthAdjust="spacingAndGlyphs" transform="translate(532.45 494.91) rotate(-90)" font-size="10.23" fill="#000000" stroke="#000000" stroke-width="0.6">OLFM4</text>
<text id="t96" x="0" y="3.18" text-anchor="middle" textLength="17.50" lengthAdjust="spacingAndGlyphs" transform="translate(547.16 462.08) rotate(90)" font-size="9.24" fill="#000000" stroke="#000000" stroke-width="0.6">FLG</text>
<text id="t97" x="0" y="3.54" text-anchor="middle" textLength="33.55" lengthAdjust="spacingAndGlyphs" transform="translate(566.41 494.02) rotate(-90)" font-size="10.30" fill="#000000" stroke="#000000" stroke-width="0.6">MMP1</text>
<text id="t98" x="0" y="3.56" text-anchor="middle" textLength="66.47" lengthAdjust="spacingAndGlyphs" transform="translate(582.84 437.48) rotate(90)" font-size="10.35" fill="#000000" stroke="#000000" stroke-width="0.6">LOC100294406</text>
<text id="t99" x="0" y="4.47" text-anchor="middle" textLength="50.14" lengthAdjust="spacingAndGlyphs" transform="translate(84.25 338.35) rotate(-60)" font-size="13.00" fill="#000000" stroke="#000" stroke-width="0.25">Immune</text>
<text id="t100" x="0" y="4.47" text-anchor="middle" textLength="110.41" lengthAdjust="spacingAndGlyphs" transform="translate(96.22 365.95) rotate(-60)" font-size="13.00" fill="#000000" stroke="#000" stroke-width="0.25">Signaling/Survival</text>
<text id="t101" x="0" y="4.47" text-anchor="middle" textLength="61.21" lengthAdjust="spacingAndGlyphs" transform="translate(132.31 343.77) rotate(-60)" font-size="13.00" fill="#000000" stroke="#000" stroke-width="0.25">Structural</text>
<text id="t102" x="0" y="4.47" text-anchor="middle" textLength="50.36" lengthAdjust="spacingAndGlyphs" transform="translate(653.89 338.65) rotate(-60)" font-size="13.00" fill="#000000" stroke="#000" stroke-width="0.25">Immune</text>
<text id="t103" x="0" y="4.47" text-anchor="middle" textLength="84.22" lengthAdjust="spacingAndGlyphs" transform="translate(835.61 352.81) rotate(-60)" font-size="13.00" fill="#000000" stroke="#000" stroke-width="0.25">Inflammation</text>
<text id="t104" x="0" y="4.47" text-anchor="middle" textLength="108.70" lengthAdjust="spacingAndGlyphs" transform="translate(864.91 365.60) rotate(-60)" font-size="13.00" fill="#000000" stroke="#000" stroke-width="0.25">Signaling/Survival</text>
<text id="t105" x="0" y="4.47" text-anchor="middle" textLength="62.90" lengthAdjust="spacingAndGlyphs" transform="translate(923.69 341.74) rotate(-60)" font-size="13.00" fill="#000000" stroke="#000" stroke-width="0.25">Structural</text>
<text id="t106" x="0" y="4.47" text-anchor="middle" textLength="79.74" lengthAdjust="spacingAndGlyphs" transform="translate(975.42 352.95) rotate(-60)" font-size="13.00" fill="#000000" stroke="#000" stroke-width="0.25">Transcription</text>
<text id="t107" x="0" y="4.47" text-anchor="middle" textLength="58.22" lengthAdjust="spacingAndGlyphs" transform="translate(1022.21 342.04) rotate(-60)" font-size="13.00" fill="#000000" stroke="#000" stroke-width="0.25">Unknown</text>
<text id="t108" x="0" y="4.47" text-anchor="middle" textLength="51.66" lengthAdjust="spacingAndGlyphs" transform="translate(241.32 704.88) rotate(-60)" font-size="13.00" fill="#000000" stroke="#000" stroke-width="0.25">Immune</text>
<text id="t109" x="0" y="4.47" text-anchor="middle" textLength="84.53" lengthAdjust="spacingAndGlyphs" transform="translate(297.04 719.19) rotate(-60)" font-size="13.00" fill="#000000" stroke="#000" stroke-width="0.25">Inflammation</text>
<text id="t110" x="0" y="4.47" text-anchor="middle" textLength="110.31" lengthAdjust="spacingAndGlyphs" transform="translate(310.62 732.34) rotate(-60)" font-size="13.00" fill="#000000" stroke="#000" stroke-width="0.25">Signaling/Survival</text>
<text id="t111" x="0" y="4.47" text-anchor="middle" textLength="87.34" lengthAdjust="spacingAndGlyphs" transform="translate(338.86 719.05) rotate(-60)" font-size="13.00" fill="#000000" stroke="#000" stroke-width="0.25">Transcription</text>
<text id="t112" x="0" y="4.47" text-anchor="middle" textLength="60.18" lengthAdjust="spacingAndGlyphs" transform="translate(361.62 708.82) rotate(-60)" font-size="13.00" fill="#000000" stroke="#000" stroke-width="0.25">Unknown</text>
<text id="t113" x="0" y="4.47" text-anchor="middle" textLength="83.19" lengthAdjust="spacingAndGlyphs" transform="translate(451.08 718.78) rotate(-60)" font-size="13.00" fill="#000000" stroke="#000" stroke-width="0.25">Inflammation</text>
<text id="t114" x="0" y="4.47" text-anchor="middle" textLength="109.92" lengthAdjust="spacingAndGlyphs" transform="translate(487.88 732.84) rotate(-60)" font-size="13.00" fill="#000000" stroke="#000" stroke-width="0.25">Signaling/Survival</text>
<text id="t115" x="0" y="4.47" text-anchor="middle" textLength="59.37" lengthAdjust="spacingAndGlyphs" transform="translate(541.97 709.20) rotate(-60)" font-size="13.00" fill="#000000" stroke="#000" stroke-width="0.25">Structural</text>
<text id="t116" x="0" y="4.47" text-anchor="middle" textLength="56.95" lengthAdjust="spacingAndGlyphs" transform="translate(566.75 707.92) rotate(-60)" font-size="13.00" fill="#000000" stroke="#000" stroke-width="0.25">Unknown</text>
</svg></body></html>
